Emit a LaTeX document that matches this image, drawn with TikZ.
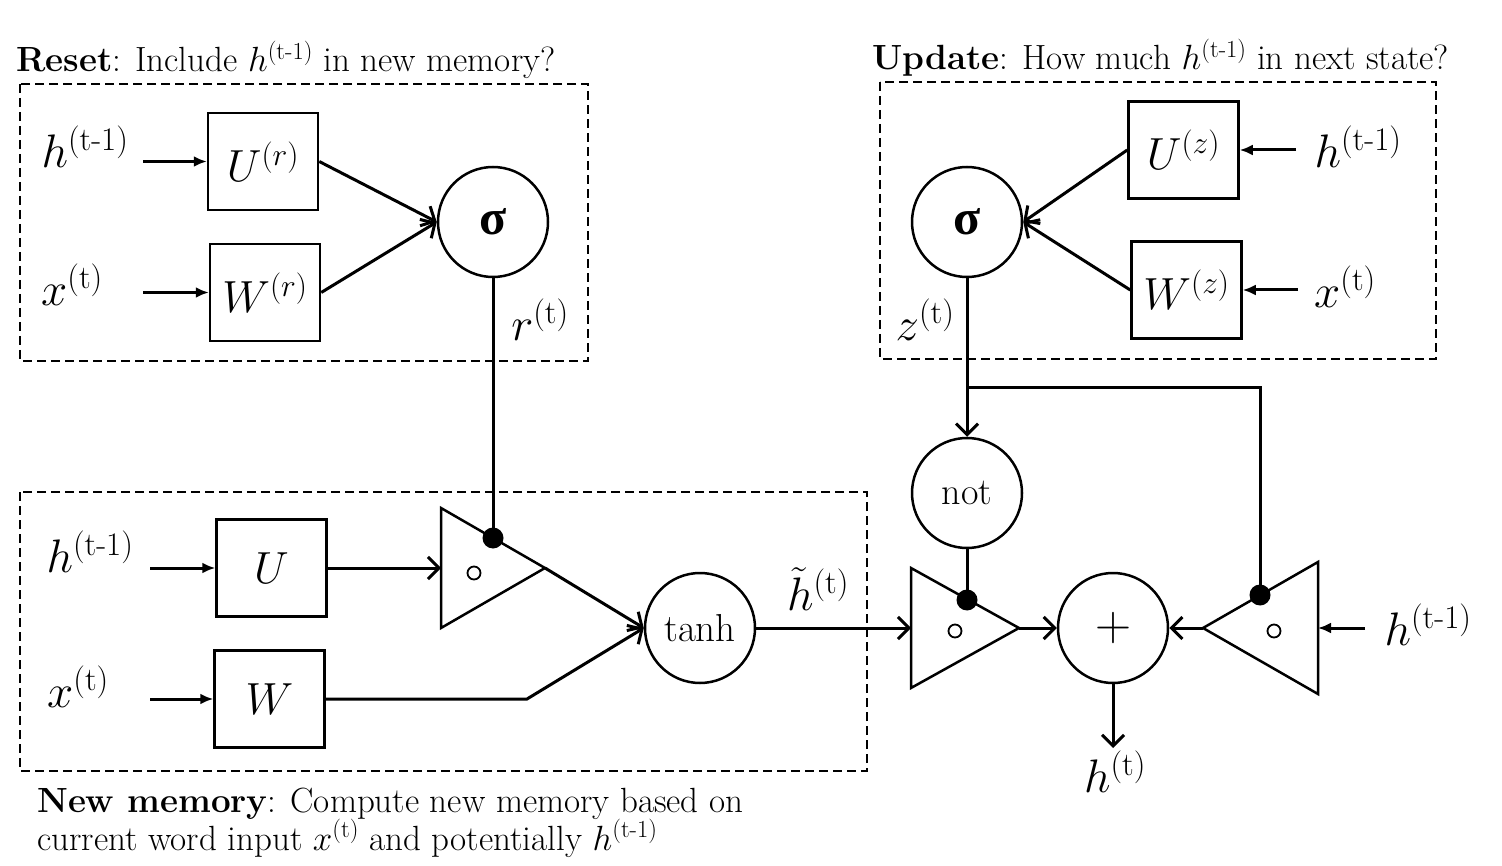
\RequirePackage{fix-cm}
\documentclass[tikz,border=0pt]{standalone}
\usepackage{amsmath}
\usepackage{fontspec}
\newfontfamily\sigmafont{Liberation Serif}
\usetikzlibrary{arrows.meta,calc}
\begin{document}
\begin{tikzpicture}[x=1pt,y=-1pt,
  box/.style={draw,line width=2.5pt,minimum width=110pt,minimum height=97pt,inner sep=0pt,font=\fontsize{45}{48}\selectfont},
  op/.style={draw,circle,line width=2.5pt,minimum size=110pt,inner sep=0pt},
  lbl/.style={font=\fontsize{47}{50}\selectfont,inner sep=0pt},
  ttl/.style={font=\fontsize{35}{40}\selectfont,inner sep=0pt,anchor=base west},
  conn/.style={line width=3pt},
  inarr/.style={line width=3pt,-{Latex[length=13pt,width=11pt]}},
  barb/.style={line width=3pt,-{Straight Barb[length=11pt,width=22pt,line width=3pt]}},
  grp/.style={draw,line width=2.5pt,dash pattern=on 9pt off 5pt},
  dotc/.style={circle,fill,inner sep=0pt,minimum size=21pt},
  small/.style={draw,circle,line width=1.8pt,minimum size=13pt,inner sep=0pt},
  gate/.style={draw,line width=2.5pt,line join=miter},
  sig/.style={font=\sigmafont\bfseries\fontsize{50}{52}\selectfont}
]
\useasboundingbox (0,0) rectangle (1502,866);

% ---------------- Reset group ----------------
\draw[grp] (20,84) rectangle (588,361);
\node[ttl] (tr) at (16,72) {\textbf{Reset}: Include $h^{(\text{t-1})}$ in new memory?};
\node[box] (Ur) at (263,161.5) {$U^{(r)}$};
\node[box] (Wr) at (265,292.5) {$W^{(r)}$};
\node[op,sig] (sr) at (493,222) {σ};
\node[lbl] (hr) at (85,147) {$h^{(\text{t-1})}$};
\node[lbl] (xr) at (72,285) {$x^{(\text{t})}$};
\coordinate (hrs) at (143,161.5);
\coordinate (xrs) at (143,292.5);
\draw[inarr] (hrs) -- (Ur.west);
\draw[inarr] (xrs) -- (Wr.west);
\draw[barb] (Ur.east) -- (sr.west);
\draw[barb] (Wr.east) -- (sr.west);
\node[lbl] (rl) at (540,320) {$r^{(\text{t})}$};

% ---------------- Update group ----------------
\draw[grp] (880,82) rectangle (1436,359);
\node[ttl] (tu) at (872,70) {\textbf{Update}: How much $h^{(\text{t-1})}$ in next state?};
\node[box] (Uz) at (1183.5,150) {$U^{(z)}$};
\node[box] (Wz) at (1186.5,290) {$W^{(z)}$};
\node[op,sig] (sz) at (967,222) {σ};
\node[lbl] (hz) at (1358,147) {$h^{(\text{t-1})}$};
\node[lbl] (xz) at (1345,287) {$x^{(\text{t})}$};
\coordinate (hzs) at (1296,150);
\coordinate (xzs) at (1298,290);
\draw[inarr] (hzs) -- (Uz.east);
\draw[inarr] (xzs) -- (Wz.east);
\draw[barb] (Uz.west) -- (sz.east);
\draw[barb] (Wz.west) -- (sz.east);
\node[lbl] (zl) at (925,320) {$z^{(\text{t})}$};

% ---------------- New memory group ----------------
\draw[grp] (20,492) rectangle (867,771);
\node[box] (U) at (271.5,568) {$U$};
\node[box] (W) at (269.5,699) {$W$};
\node[lbl] (hn) at (90,552) {$h^{(\text{t-1})}$};
\node[lbl] (xn) at (78,687) {$x^{(\text{t})}$};
\coordinate (hns) at (150,568);
\coordinate (xns) at (150,699);
\draw[inarr] (hns) -- (U.west);
\draw[inarr] (xns) -- (W.west);

% gate 0 (reset applied to U h)
\coordinate (g0a) at (441,508);
\coordinate (g0b) at (441,628);
\coordinate (g0t) at (545,568);
\coordinate (g0l) at (441,568);
\draw[gate] (g0a) -- (g0t) -- (g0b) -- cycle;
\node[small] (s0) at (474,573) {};
\node[dotc] (d0) at (493,538) {};

\node[op,font=\fontsize{39}{40}\selectfont] (th) at (700,628) {tanh};
\draw[barb] (U.east) -- (g0l);
\draw[barb] (g0t) -- (th.west);
\coordinate (wk) at (527,699);
\draw[barb] (W.east) -- (wk) -- (th.west);
\draw[conn] (sr.south) -- (d0.center);
\node[lbl] (ht) at (818,589) {$\tilde{h}^{(\text{t})}$};

\node[ttl] (tn1) at (37,812) {\textbf{New memory}: Compute new memory based on};
\node[ttl] (tn2) at (37,850) {current word input $x^{(\text{t})}$ and potentially $h^{(\text{t-1})}$};

% ---------------- Output part ----------------
\node[op,font=\fontsize{38}{40}\selectfont] (nt) at (967,493) {not};
\coordinate (br) at (967,388);
\draw[conn] (sz.south) -- (br);
\draw[barb] (br) -- (nt.north);

% gate 1
\coordinate (g1a) at (911,568);
\coordinate (g1b) at (911,688);
\coordinate (g1t) at (1019,628);
\coordinate (g1l) at (911,628);
\draw[gate] (g1a) -- (g1t) -- (g1b) -- cycle;
\node[small] (s1) at (955,631) {};
\node[dotc] (d1) at (967,600) {};
\draw[conn] (nt.south) -- (d1.center);

% gate 2
\coordinate (g2a) at (1318,562);
\coordinate (g2b) at (1318,694);
\coordinate (g2t) at (1203,628);
\coordinate (g2r) at (1318,628);
\draw[gate] (g2a) -- (g2t) -- (g2b) -- cycle;
\node[small] (s2) at (1274,631) {};
\node[dotc] (d2) at (1260,595) {};
\coordinate (bc) at (1260,388);
\draw[conn] (br) -- (bc) -- (d2.center);

\node[op,font=\fontsize{50}{52}\selectfont] (pl) at (1113,628) {+};
\draw[barb] (th.east) -- (g1l);
\draw[barb] (g1t) -- (pl.west);
\draw[barb] (g2t) -- (pl.east);
\node[lbl] (h2) at (1428,625) {$h^{(\text{t-1})}$};
\coordinate (h2s) at (1365,628);
\draw[inarr] (h2s) -- (g2r);
\coordinate (hout) at (1113,748);
\draw[barb] (pl.south) -- (hout);
\node[lbl] (ho) at (1115,772) {$h^{(\text{t})}$};
\end{tikzpicture}
\end{document}
